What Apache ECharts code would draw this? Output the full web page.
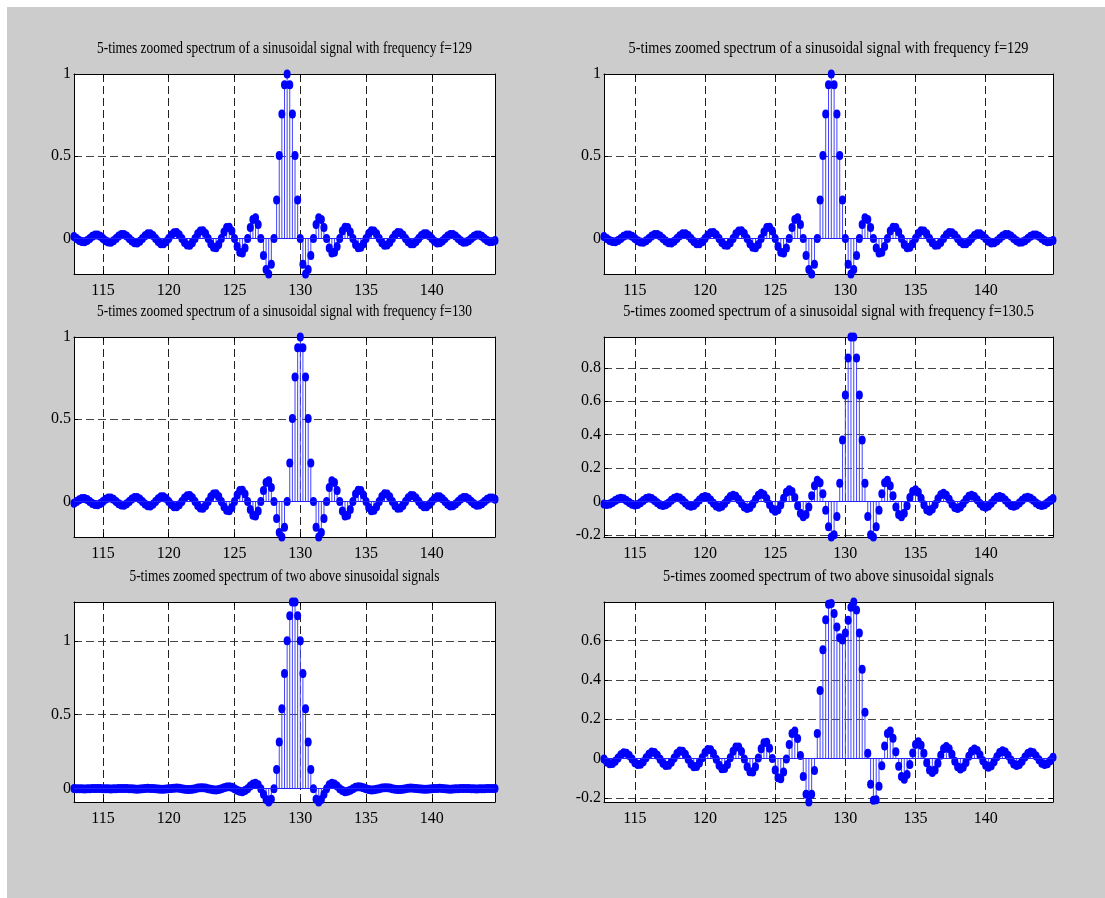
<!DOCTYPE html>
<html>
<head>
<meta charset="utf-8">
<script src="https://cdn.jsdelivr.net/npm/echarts@6.0.0/dist/echarts.min.js"></script>
<style>
  html, body { margin: 0; padding: 0; background: #fff; }
  #chart { width: 1105px; height: 898px; }
</style>
</head>
<body>
<div id="chart"></div>
<script>
// frequency grid of the zoomed spectrum (0.2 Hz bins)
const freqStart = 112.8;
const freqEnd = 144.8;
const freqStep = 0.2;
const freqTicks = [115, 120, 125, 130, 135, 140];

const titleF129 = "5-times zoomed spectrum of a sinusoidal signal with frequency f=129";
const titleF130 = "5-times zoomed spectrum of a sinusoidal signal with frequency f=130";
const titleF1305 = "5-times zoomed spectrum of a sinusoidal signal with frequency f=130.5";
const titleSum = "5-times zoomed spectrum of two above sinusoidal signals";

const spec129 = [
  0.012, 0, -0.012, -0.019, -0.020, -0.012, 0, 0.013, 0.021, 0.021,
  0.013, 0, -0.014, -0.022, -0.023, -0.014, 0, 0.015, 0.024, 0.024,
  0.015, 0, -0.016, -0.026, -0.027, -0.017, 0, 0.017, 0.029, 0.029,
  0.018, 0, -0.019, -0.032, -0.032, -0.020, 0, 0.021, 0.035, 0.036,
  0.023, 0, -0.024, -0.040, -0.041, -0.026, 0, 0.028, 0.046, 0.047,
  0.030, 0, -0.032, -0.054, -0.056, -0.036, 0, 0.039, 0.066, 0.069,
  0.045, 0, -0.049, -0.084, -0.089, -0.058, 0, 0.067, 0.116, 0.126,
  0.085, 0, -0.104, -0.189, -0.216, -0.156, 0, 0.234, 0.505, 0.757,
  0.935, 1, 0.935, 0.757, 0.505, 0.234, 0, -0.156, -0.216, -0.189,
  -0.104, 0, 0.085, 0.126, 0.116, 0.067, 0, -0.058, -0.089, -0.084,
  -0.049, 0, 0.045, 0.069, 0.066, 0.039, 0, -0.036, -0.056, -0.054,
  -0.032, 0, 0.030, 0.047, 0.046, 0.028, 0, -0.026, -0.041, -0.040,
  -0.024, 0, 0.023, 0.036, 0.035, 0.021, 0, -0.020, -0.032, -0.032,
  -0.019, 0, 0.018, 0.029, 0.029, 0.017, 0, -0.017, -0.027, -0.026,
  -0.016, 0, 0.015, 0.024, 0.024, 0.015, 0, -0.014, -0.023, -0.022,
  -0.014, 0, 0.013, 0.021, 0.021, 0.013, 0, -0.012, -0.020, -0.019,
  -0.012
];

const spec130 = [
  -0.011, 0, 0.011, 0.018, 0.018, 0.012, 0, -0.012, -0.019, -0.020,
  -0.012, 0, 0.013, 0.021, 0.021, 0.013, 0, -0.014, -0.022, -0.023,
  -0.014, 0, 0.015, 0.024, 0.024, 0.015, 0, -0.016, -0.026, -0.027,
  -0.017, 0, 0.017, 0.029, 0.029, 0.018, 0, -0.019, -0.032, -0.032,
  -0.020, 0, 0.021, 0.035, 0.036, 0.023, 0, -0.024, -0.040, -0.041,
  -0.026, 0, 0.028, 0.046, 0.047, 0.030, 0, -0.032, -0.054, -0.056,
  -0.036, 0, 0.039, 0.066, 0.069, 0.045, 0, -0.049, -0.084, -0.089,
  -0.058, 0, 0.067, 0.116, 0.126, 0.085, 0, -0.104, -0.189, -0.216,
  -0.156, 0, 0.234, 0.505, 0.757, 0.935, 1, 0.935, 0.757, 0.505,
  0.234, 0, -0.156, -0.216, -0.189, -0.104, 0, 0.085, 0.126, 0.116,
  0.067, 0, -0.058, -0.089, -0.084, -0.049, 0, 0.045, 0.069, 0.066,
  0.039, 0, -0.036, -0.056, -0.054, -0.032, 0, 0.030, 0.047, 0.046,
  0.028, 0, -0.026, -0.041, -0.040, -0.024, 0, 0.023, 0.036, 0.035,
  0.021, 0, -0.020, -0.032, -0.032, -0.019, 0, 0.018, 0.029, 0.029,
  0.017, 0, -0.017, -0.027, -0.026, -0.016, 0, 0.015, 0.024, 0.024,
  0.015, 0, -0.014, -0.023, -0.022, -0.014, 0, 0.013, 0.021, 0.021,
  0.013
];

const spec1305 = [
  -0.015, -0.018, -0.015, -0.006, 0.006, 0.015, 0.019, 0.016, 0.006, -0.006,
  -0.016, -0.021, -0.017, -0.007, 0.007, 0.018, 0.022, 0.018, 0.007, -0.007,
  -0.019, -0.024, -0.019, -0.008, 0.008, 0.020, 0.025, 0.021, 0.008, -0.008,
  -0.022, -0.028, -0.023, -0.009, 0.009, 0.024, 0.030, 0.025, 0.010, -0.010,
  -0.027, -0.034, -0.028, -0.011, 0.011, 0.030, 0.037, 0.031, 0.012, -0.012,
  -0.033, -0.042, -0.035, -0.014, 0.014, 0.038, 0.049, 0.041, 0.016, -0.017,
  -0.045, -0.058, -0.049, -0.019, 0.020, 0.055, 0.071, 0.060, 0.024, -0.025,
  -0.070, -0.091, -0.078, -0.032, 0.034, 0.095, 0.127, 0.112, 0.047, -0.052,
  -0.151, -0.212, -0.198, -0.089, 0.109, 0.368, 0.637, 0.858, 0.984, 0.984,
  0.858, 0.637, 0.368, 0.109, -0.089, -0.198, -0.212, -0.151, -0.052, 0.047,
  0.112, 0.127, 0.095, 0.034, -0.032, -0.078, -0.091, -0.070, -0.025, 0.024,
  0.060, 0.071, 0.055, 0.020, -0.019, -0.049, -0.058, -0.045, -0.017, 0.016,
  0.041, 0.049, 0.038, 0.014, -0.014, -0.035, -0.042, -0.033, -0.012, 0.012,
  0.031, 0.037, 0.030, 0.011, -0.011, -0.028, -0.034, -0.027, -0.010, 0.010,
  0.025, 0.030, 0.024, 0.009, -0.009, -0.023, -0.028, -0.022, -0.008, 0.008,
  0.021, 0.025, 0.020, 0.008, -0.008, -0.019, -0.024, -0.019, -0.007, 0.007,
  0.018
];

// f=129 together with f=130
const specSumLeft = [
  0.001, 0, -0.001, -0.001, -0.002, 0, 0, 0.001, 0.002, 0.001,
  0.001, 0, -0.001, -0.001, -0.002, -0.001, 0, 0.001, 0.002, 0.001,
  0.001, 0, -0.001, -0.002, -0.003, -0.002, 0, 0.001, 0.003, 0.002,
  0.001, 0, -0.002, -0.003, -0.003, -0.002, 0, 0.002, 0.003, 0.004,
  0.003, 0, -0.003, -0.005, -0.005, -0.003, 0, 0.004, 0.006, 0.006,
  0.004, 0, -0.004, -0.008, -0.009, -0.006, 0, 0.007, 0.012, 0.013,
  0.009, 0, -0.010, -0.018, -0.020, -0.013, 0, 0.018, 0.032, 0.037,
  0.027, 0, -0.037, -0.073, -0.090, -0.071, 0, 0.130, 0.316, 0.541,
  0.779, 1, 1.169, 1.262, 1.262, 1.169, 1, 0.779, 0.541, 0.316,
  0.130, 0, -0.071, -0.090, -0.073, -0.037, 0, 0.027, 0.037, 0.032,
  0.018, 0, -0.013, -0.020, -0.018, -0.010, 0, 0.009, 0.013, 0.012,
  0.007, 0, -0.006, -0.009, -0.008, -0.004, 0, 0.004, 0.006, 0.006,
  0.004, 0, -0.003, -0.005, -0.005, -0.003, 0, 0.003, 0.004, 0.003,
  0.002, 0, -0.002, -0.003, -0.003, -0.002, 0, 0.001, 0.002, 0.003,
  0.001, 0, -0.002, -0.003, -0.002, -0.001, 0, 0.001, 0.001, 0.002,
  0.001, 0, -0.001, -0.002, -0.001, -0.001, 0, 0.001, 0.001, 0.002,
  0.001
];

// f=129 together with f=130.5
const specSumRight = [
  -0.003, -0.018, -0.027, -0.025, -0.014, 0.003, 0.019, 0.029, 0.027, 0.015,
  -0.003, -0.021, -0.031, -0.029, -0.016, 0.004, 0.022, 0.033, 0.031, 0.017,
  -0.004, -0.024, -0.035, -0.034, -0.019, 0.003, 0.025, 0.038, 0.037, 0.021,
  -0.004, -0.028, -0.042, -0.041, -0.023, 0.004, 0.030, 0.046, 0.045, 0.026,
  -0.004, -0.034, -0.052, -0.051, -0.030, 0.004, 0.037, 0.059, 0.058, 0.035,
  -0.003, -0.042, -0.067, -0.068, -0.042, 0.002, 0.049, 0.080, 0.082, 0.052,
  0.000, -0.058, -0.098, -0.103, -0.069, -0.003, 0.071, 0.127, 0.140, 0.101,
  0.015, -0.091, -0.182, -0.221, -0.182, -0.061, 0.127, 0.346, 0.552, 0.705,
  0.784, 0.788, 0.737, 0.668, 0.614, 0.602, 0.637, 0.702, 0.768, 0.795,
  0.754, 0.637, 0.453, 0.235, 0.027, -0.131, -0.212, -0.209, -0.141, -0.037,
  0.063, 0.127, 0.140, 0.103, 0.034, -0.039, -0.091, -0.106, -0.081, -0.030,
  0.028, 0.071, 0.085, 0.067, 0.027, -0.021, -0.058, -0.071, -0.058, -0.024,
  0.017, 0.049, 0.061, 0.050, 0.021, -0.014, -0.042, -0.053, -0.044, -0.020,
  0.012, 0.037, 0.048, 0.040, 0.018, -0.011, -0.034, -0.044, -0.037, -0.016,
  0.009, 0.030, 0.039, 0.033, 0.015, -0.008, -0.028, -0.036, -0.031, -0.014,
  0.007, 0.025, 0.033, 0.029, 0.013, -0.006, -0.024, -0.031, -0.027, -0.012,
  0.006
];

// y limits (axis tight) and y tick labels, one per subplot
const yLimits = [[-0.216, 1], [-0.216, 1], [-0.216, 1], [-0.212, 0.984], [-0.090, 1.262], [-0.221, 0.795]];
const yTicksHalf = [0, 0.5, 1];
const yTicksFine = [-0.2, 0, 0.2, 0.4, 0.6, 0.8];
const yTicksSum = [-0.2, 0, 0.2, 0.4, 0.6];

const panels = [
  { title: titleF129, values: spec129, yTicks: yTicksHalf },
  { title: titleF129, values: spec129, yTicks: yTicksHalf },
  { title: titleF130, values: spec130, yTicks: yTicksHalf },
  { title: titleF1305, values: spec1305, yTicks: yTicksFine },
  { title: titleSum, values: specSumLeft, yTicks: yTicksHalf },
  { title: titleSum, values: specSumRight, yTicks: yTicksSum },
];

// subplot boxes in pixels
const colLeft = [74, 604];
const colWidth = [421, 449];
const rowTop = [74, 337, 602];
const rowHeight = 200;
const titleY = [49, 312, 577];
const titleWidthF129 = [375, 400];

const FONT = "Liberation Serif";
const TITLE_FONT = "17px '" + FONT + "'";
const measure = document.createElement("canvas").getContext("2d");
measure.font = TITLE_FONT;
const baseWidth = measure.measureText(titleF129).width;

const grids = [], xAxes = [], yAxes = [], series = [], graphics = [];

graphics.push({ type: "rect", silent: true, z: -10, shape: { x: 0, y: 0, width: 1105, height: 7 }, style: { fill: "#fff" } });
graphics.push({ type: "rect", silent: true, z: -10, shape: { x: 0, y: 0, width: 7, height: 898 }, style: { fill: "#fff" } });

panels.forEach((p, i) => {
  const col = i % 2;
  const row = Math.floor(i / 2);
  grids.push({
    left: colLeft[col], top: rowTop[row], width: colWidth[col], height: rowHeight,
    show: true, backgroundColor: "#fff", borderWidth: 0,
  });

  const lim = yLimits[i];
  const axisLine = { show: true, onZero: false, lineStyle: { color: "#000", width: 1 } };
  const tickStyle = { color: "#000", width: 1 };

  xAxes.push({
    gridIndex: i, type: "value", min: freqStart, max: freqEnd, position: "bottom",
    axisLine: axisLine,
    axisTick: { show: true, inside: true, length: 4, customValues: freqTicks, lineStyle: tickStyle },
    axisLabel: { customValues: freqTicks, color: "#000", fontFamily: FONT, fontSize: 16, margin: 9 },
    splitLine: { show: true, lineStyle: { color: "#222", type: [8, 4], width: 1 } },
  });
  xAxes.push({
    gridIndex: i, type: "value", min: freqStart, max: freqEnd, position: "top",
    axisLine: axisLine,
    axisTick: { show: true, inside: true, length: 4, customValues: freqTicks, lineStyle: tickStyle },
    axisLabel: { show: false },
    splitLine: { show: false },
  });
  yAxes.push({
    gridIndex: i, type: "value", min: lim[0], max: lim[1], position: "left",
    axisLine: axisLine,
    axisTick: { show: true, inside: true, length: 4, customValues: p.yTicks, lineStyle: tickStyle },
    axisLabel: { customValues: p.yTicks, color: "#000", fontFamily: FONT, fontSize: 16, margin: 3 },
    splitLine: { show: true, lineStyle: { color: "#444", type: [8, 4], width: 1 } },
  });
  yAxes.push({
    gridIndex: i, type: "value", min: lim[0], max: lim[1], position: "right",
    axisLine: axisLine,
    axisTick: { show: true, inside: true, length: 4, customValues: p.yTicks, lineStyle: tickStyle },
    axisLabel: { show: false },
    splitLine: { show: false },
  });

  const data = p.values.map((v, k) => [freqStart + k * freqStep, v]);

  series.push({
    type: "custom",
    xAxisIndex: 2 * i, yAxisIndex: 2 * i,
    data: data,
    encode: { x: 0, y: 1 },
    silent: true,
    renderItem: (params, api) => {
      const tip = api.coord([api.value(0), api.value(1)]);
      const base = api.coord([api.value(0), 0]);
      return {
        type: "line",
        shape: { x1: tip[0], y1: base[1], x2: tip[0], y2: tip[1] },
        style: { stroke: "#4444ff", lineWidth: 1 },
      };
    },
  });
  series.push({
    type: "scatter",
    xAxisIndex: 2 * i, yAxisIndex: 2 * i,
    data: data,
    symbol: "circle",
    symbolSize: [7, 9],
    itemStyle: { color: "#0000ff", opacity: 1 },
    silent: true,
    markLine: {
      silent: true, symbol: "none", animation: false,
      label: { show: false },
      lineStyle: { color: "#2222ff", type: "solid", width: 1 },
      data: [{ yAxis: 0 }],
    },
  });

  graphics.push({
    type: "text",
    x: colLeft[col] + colWidth[col] / 2,
    y: titleY[row],
    scaleX: titleWidthF129[col] / baseWidth,
    silent: true,
    style: {
      text: p.title, fill: "#000",
      font: TITLE_FONT,
      textAlign: "center", textVerticalAlign: "middle",
    },
  });
});

const chart = echarts.init(document.getElementById("chart"));
chart.setOption({
  animation: false,
  backgroundColor: "#cccccc",
  grid: grids,
  xAxis: xAxes,
  yAxis: yAxes,
  series: series,
  graphic: graphics,
});
</script>
</body>
</html>
